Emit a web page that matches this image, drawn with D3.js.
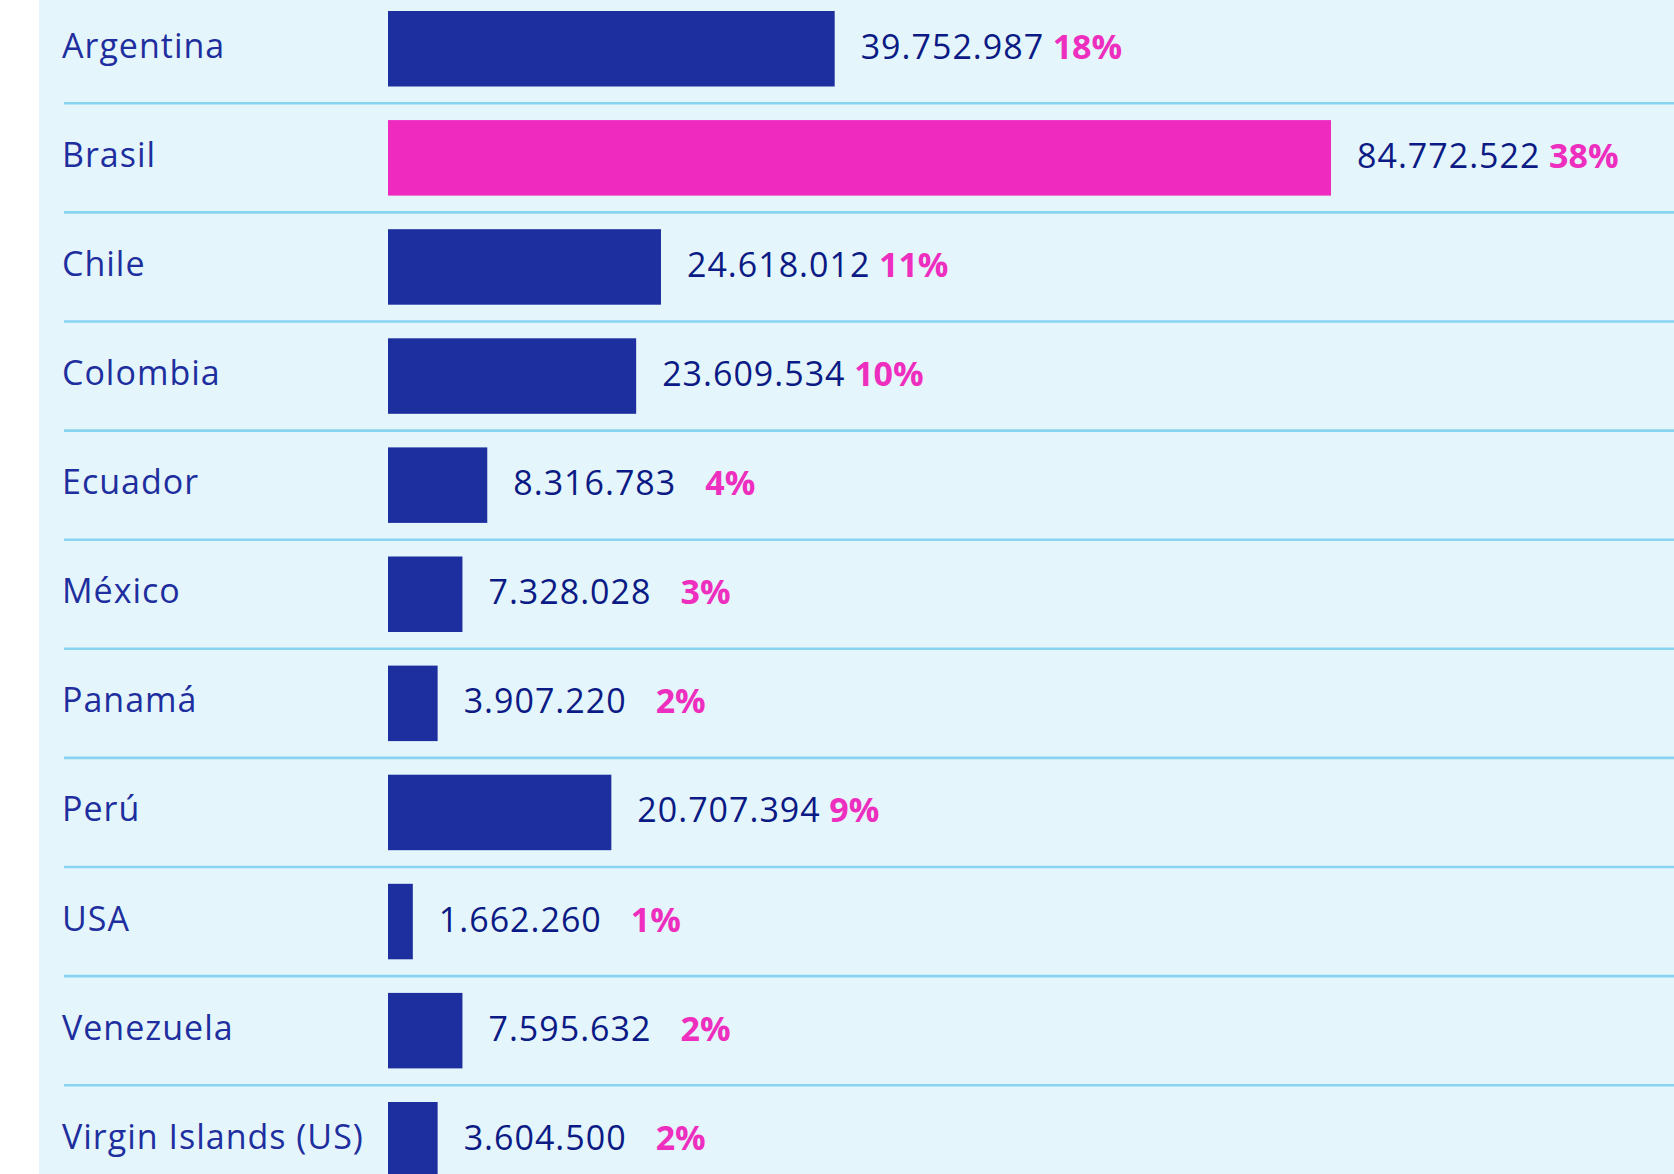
<!DOCTYPE html>
<html>
<head>
<meta charset="utf-8">
<script src="https://cdn.jsdelivr.net/npm/d3@7"></script>
<style>
  html, body { margin: 0; padding: 0; background: #ffffff; }
  svg { display: block; }
</style>
</head>
<body>
<svg id="chart" width="1674" height="1174"></svg>
<script>
const countries = ["Argentina", "Brasil", "Chile", "Colombia", "Ecuador", "México", "Panamá", "Perú", "USA", "Venezuela", "Virgin Islands (US)"];
const values = [39752987, 84772522, 24618012, 23609534, 8316783, 7328028, 3907220, 20707394, 1662260, 7595632, 3604500];
// bar lengths (percent, as drawn in the reference)
const barShares = [18, 38, 11, 10, 4, 3, 2, 9, 1, 3, 2];
// percent labels (as printed in the reference)
const shareLabels = ["18%", "38%", "11%", "10%", "4%", "3%", "2%", "9%", "1%", "2%", "2%"];
const highlight = ["Brasil"];

const W = 1674, H = 1174;
const svg = d3.select("#chart");

const locale = d3.formatLocale({ decimal: ",", thousands: ".", grouping: [3], currency: ["", ""] });
const fmt = locale.format(",d");

const rows = countries.map((c, i) => ({ country: c, value: values[i], share: barShares[i], label: shareLabels[i] }));

// background panel
svg.append("rect").attr("x", 39).attr("y", 0).attr("width", W - 39).attr("height", H).attr("fill", "#e4f6fb");

const step = 109.1;
const y = d3.scaleBand()
  .domain(countries)
  .range([11, 11 + step * (countries.length - 0.308)])
  .paddingInner(0.308)
  .paddingOuter(0);

const x = d3.scaleLinear().domain([0, d3.max(barShares)]).range([388, 1331]);

// separators
svg.append("g").selectAll("line")
  .data(countries.slice(0, -1))
  .join("line")
  .attr("x1", 64).attr("x2", W)
  .attr("y1", d => y(d) + y.bandwidth() + (y.step() - y.bandwidth()) / 2)
  .attr("y2", d => y(d) + y.bandwidth() + (y.step() - y.bandwidth()) / 2)
  .attr("stroke", "#87d3f0").attr("stroke-width", 2.6);

// bars
svg.append("g").selectAll("rect")
  .data(rows)
  .join("rect")
  .attr("x", x(0))
  .attr("y", d => y(d.country))
  .attr("width", d => x(d.share) - x(0))
  .attr("height", y.bandwidth())
  .attr("fill", d => highlight.includes(d.country) ? "#ee2abf" : "#1d2f9f");

const fontFam = "'Open Sans', 'Noto Sans', sans-serif";

// country labels
svg.append("g").selectAll("text")
  .data(rows)
  .join("text")
  .attr("x", 62)
  .attr("y", d => y(d.country) + y.bandwidth() / 2 + 9)
  .attr("font-family", fontFam)
  .attr("font-size", 34)
  .attr("font-weight", 500)
  .attr("letter-spacing", 1)
  .attr("fill", "#1e2e9e")
  .text(d => d.country);

// value labels
const vg = svg.append("g").selectAll("g")
  .data(rows)
  .join("g")
  .attr("transform", d => `translate(${x(d.share) + 26},${y(d.country) + y.bandwidth() / 2 + 10})`);

vg.append("text")
  .attr("x", 0)
  .attr("font-family", fontFam)
  .attr("font-size", 34)
  .attr("font-weight", 500)
  .attr("letter-spacing", 1)
  .attr("fill", "#0b1a84")
  .text(d => fmt(d.value));

vg.append("text")
  .attr("x", 192)
  .attr("font-family", fontFam)
  .attr("font-size", 34)
  .attr("font-weight", 700)
  .attr("fill", "#ee2ebe")
  .text(d => d.label);
</script>
</body>
</html>
